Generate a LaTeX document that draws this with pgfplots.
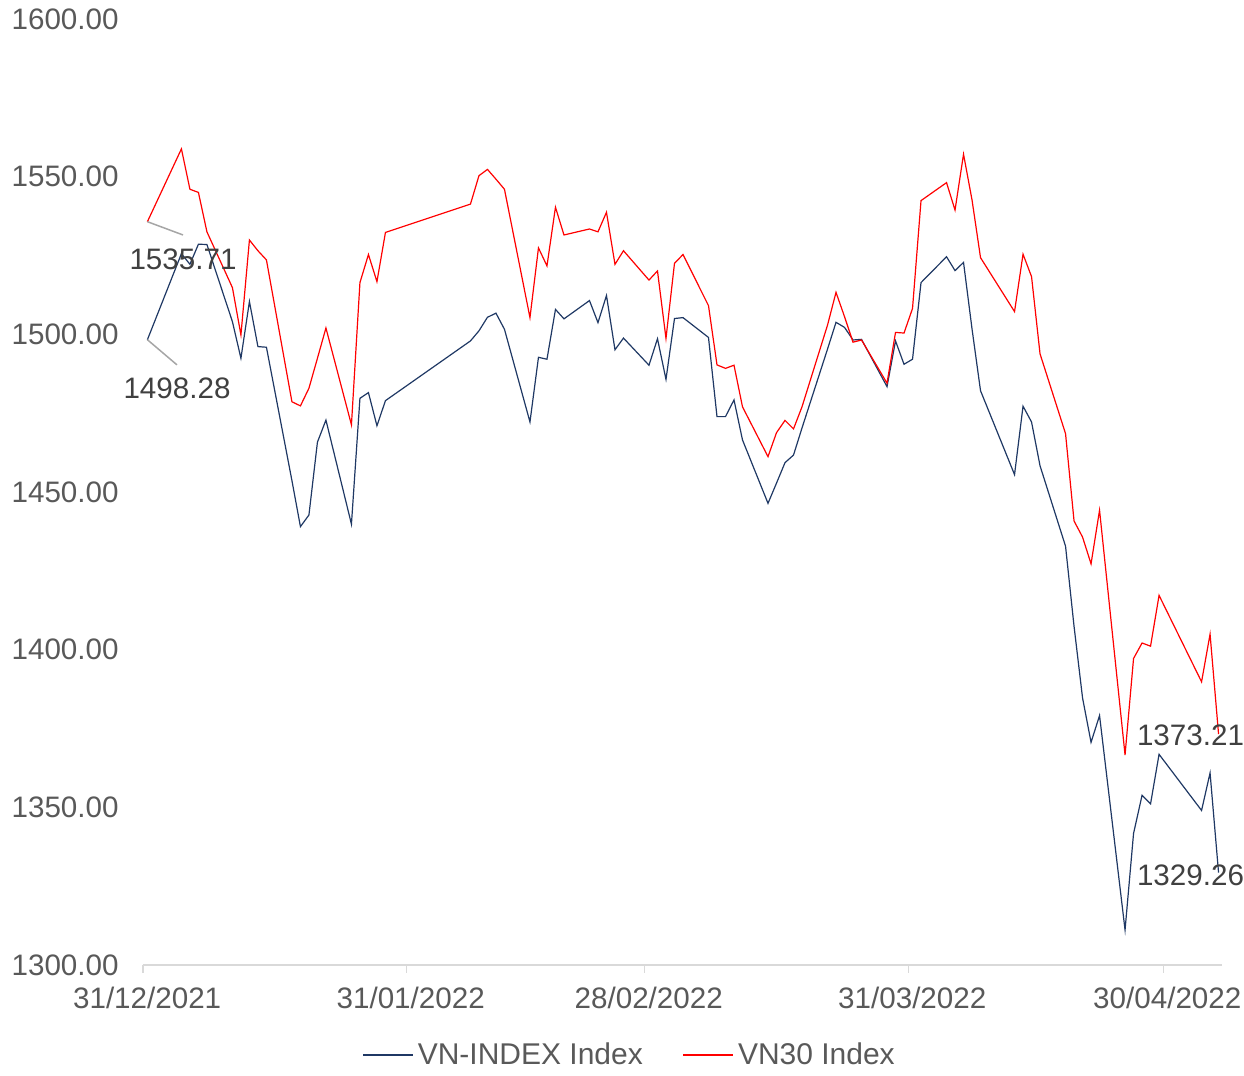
\documentclass[border=0pt]{standalone}
\usepackage{fontspec}
\setmainfont{Liberation Sans}
\usepackage{pgfplots}
\usepackage{pgfplotstable}
\pgfplotsset{compat=1.18}
\definecolor{vni}{HTML}{1F3864}
\definecolor{vnthirty}{HTML}{FF0000}
\definecolor{ticktext}{HTML}{595959}
\definecolor{labeltext}{HTML}{404040}
\definecolor{axisgrey}{HTML}{D9D9D9}
\definecolor{leader}{HTML}{A6A6A6}
\newcommand{\chartfont}{\fontsize{14.8}{17}\selectfont}
\newcommand{\legendfont}{\fontsize{15}{17}\selectfont}

\pgfplotstableread{
day vni vnt
0 1498.28 1535.71
4 1525.58 1558.8
5 1522.2 1546.0
6 1528.57 1545.0
7 1528.48 1532.5
10 1504.0 1514.8
11 1492.4 1499.8
12 1510.4 1529.9
13 1496.1 1526.5
14 1495.9 1523.6
17 1453.6 1478.6
18 1439.0 1477.3
19 1442.7 1482.9
20 1465.8 1492.4
21 1472.8 1502.0
24 1439.8 1471.3
25 1479.7 1516.4
26 1481.5 1525.3
27 1471.0 1516.7
28 1478.96 1532.3
38 1497.9 1541.3
39 1501.1 1550.3
40 1505.4 1552.3
41 1506.7 1549.2
42 1501.6 1546.0
45 1472.2 1505.3
46 1492.7 1527.4
47 1492.1 1521.7
48 1507.9 1540.3
49 1504.9 1531.5
52 1510.7 1533.4
53 1503.7 1532.5
54 1512.3 1538.7
55 1495.1 1522.2
56 1498.8 1526.5
59 1490.2 1517.2
60 1498.6 1520.1
61 1485.7 1498.7
62 1505.0 1522.5
63 1505.3 1525.3
66 1499.0 1509.1
67 1473.9 1490.3
68 1473.9 1489.2
69 1479.2 1490.2
70 1466.5 1477.0
73 1446.4 1461.2
74 1452.8 1468.8
75 1459.3 1472.7
76 1461.7 1470.0
77 1470.3 1477.0
80 1495.3 1502.9
81 1503.8 1513.3
82 1502.2 1505.6
83 1498.2 1497.5
84 1498.4 1498.2
87 1483.4 1484.5
88 1497.9 1500.6
89 1490.5 1500.4
90 1492.1 1508.2
91 1516.4 1542.4
94 1524.6 1548.1
95 1520.2 1539.4
96 1522.8 1557.1
97 1501.7 1542.6
98 1482.1 1524.3
102 1455.5 1507.2
103 1477.2 1525.4
104 1472.2 1518.3
105 1458.3 1493.8
108 1432.8 1468.5
109 1407.4 1440.8
110 1384.7 1435.7
111 1370.6 1427.2
112 1379.1 1444.2
115 1311.1 1366.6
116 1341.7 1397.2
117 1353.8 1402.1
118 1351.1 1401.1
119 1366.8 1417.2
124 1349.0 1389.8
125 1360.9 1404.9
126 1329.26 1373.21
}\indexdata

\begin{document}
\begin{tikzpicture}
\begin{axis}[
  name=ax,
  scale only axis,
  width=539.5pt, height=473pt,
  xmin=-0.52, xmax=126.4,
  ymin=1300, ymax=1600,
  clip=false,
  axis x line*=bottom, axis y line*=left,
  x axis line style={draw=axisgrey, line width=0.75pt, -},
  y axis line style={draw=none, -},
  xtick={-0.5,30.5,58.5,89.5,119.5},
  xticklabels={31/12/2021,31/01/2022,28/02/2022,31/03/2022,30/04/2022},
  xtick style={draw=axisgrey, line width=0.75pt},
  tick align=outside,
  major tick length=4pt,
  ytick={1300,1350,1400,1450,1500,1550,1600},
  ytick style={draw=none},
  yticklabel style={font=\chartfont, text=ticktext, inner sep=0pt, anchor=east, xshift=-8pt},
  xticklabel style={font=\chartfont, text=ticktext, inner sep=0pt, anchor=north, xshift=2pt, yshift=-7pt},
  /pgf/number format/assume math mode=true,
  y tick label style={/pgf/number format/.cd, fixed, fixed zerofill, precision=2, 1000 sep={}},
  legend columns=2,
  legend style={draw=none, fill=none, font=\legendfont, text=ticktext,
    at={(0.452,-0.0951)}, anchor=center,
    /tikz/every even column/.append style={column sep=18pt}},
  legend image code/.code={\draw[#1] (0pt,0pt) -- (25pt,0pt);},
]
\addplot[vni, line width=0.6pt, mark=none] table[x=day, y=vni] {\indexdata};
\addlegendentry{VN-INDEX Index}
\addplot[vnthirty, line width=0.6pt, mark=none] table[x=day, y=vnt] {\indexdata};
\addlegendentry{VN30 Index}

\draw[leader, line width=0.75pt] (axis cs:0,1535.71) -- (axis cs:4.19,1531.5);
\draw[leader, line width=0.75pt] (axis cs:0,1498.28) -- (axis cs:3.48,1490.3);
\node[font=\chartfont, text=labeltext, inner sep=0pt] at (axis cs:4.19,1523.9) {1535.71};
\node[font=\chartfont, text=labeltext, inner sep=0pt] at (axis cs:3.48,1483.0) {1498.28};
\node[font=\chartfont, text=labeltext, inner sep=0pt] at (axis cs:122.7,1372.9) {1373.21};
\node[font=\chartfont, text=labeltext, inner sep=0pt] at (axis cs:122.7,1328.5) {1329.26};
\end{axis}
\path (ax.south west) ++(-71.5pt,-52.5pt) rectangle ++(622pt,535pt);
\end{tikzpicture}
\end{document}
